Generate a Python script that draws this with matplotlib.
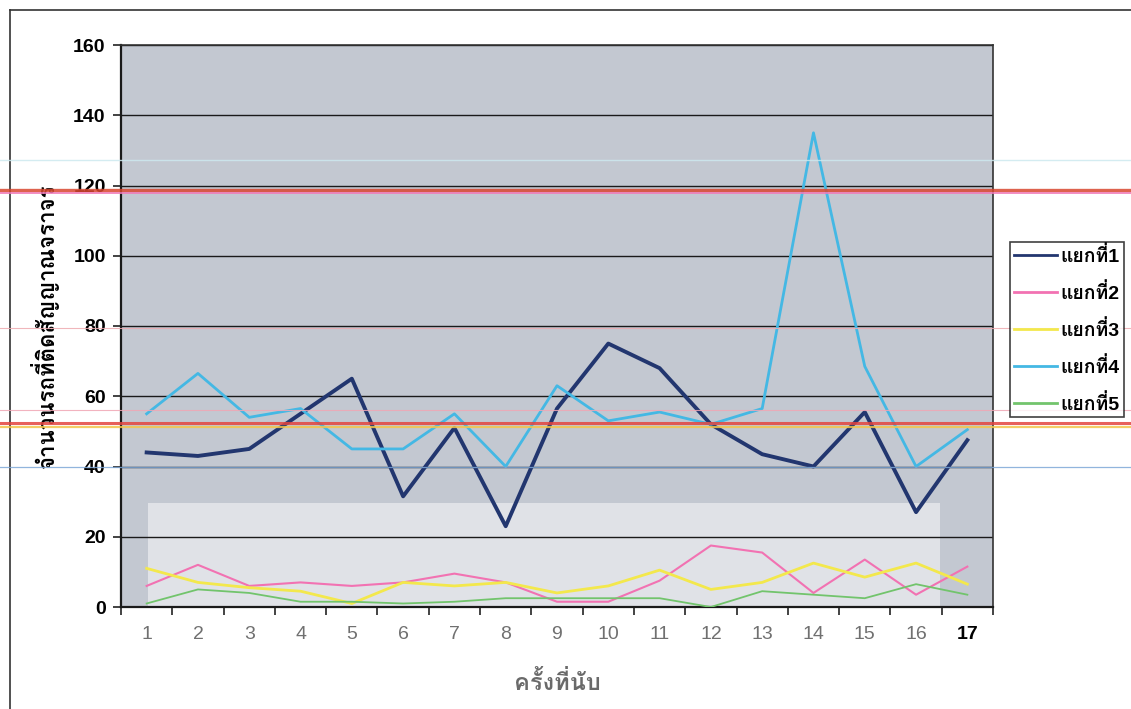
import matplotlib
matplotlib.use('Agg')
import matplotlib.pyplot as plt
from matplotlib.lines import Line2D
from matplotlib.patches import Rectangle

# Latin digits in Liberation Sans, Thai glyphs from Loma
plt.rcParams['font.family'] = ['Liberation Sans', 'Loma', 'DejaVu Sans']

rounds = list(range(1, 18))
junction1 = [44, 43, 45, 55, 65, 31.5, 51, 23, 56.5, 75, 68, 52, 43.5, 40, 55.5, 27, 47.5]
junction2 = [6, 12, 6, 7, 6, 7, 9.5, 7, 1.5, 1.5, 7.5, 17.5, 15.5, 4, 13.5, 3.5, 11.5]
junction3 = [11, 7, 5.5, 4.5, 1, 7, 6, 7, 4, 6, 10.5, 5, 7, 12.5, 8.5, 12.5, 6.5]
junction4 = [55, 66.5, 54, 56.5, 45, 45, 55, 40, 63, 53, 55.5, 52, 56.5, 135, 68.5, 40, 50.5]
junction5 = [1, 5, 4, 1.5, 1.5, 1, 1.5, 2.5, 2.5, 2.5, 2.5, 0, 4.5, 3.5, 2.5, 6.5, 3.5]
labels = ['แยกที่1', 'แยกที่2', 'แยกที่3', 'แยกที่4', 'แยกที่5']

W, H = 1131, 709
fig = plt.figure(figsize=(W / 100, H / 100), dpi=100)
ax = fig.add_axes([121 / W, 1 - 607 / H, (993 - 121) / W, (607 - 45) / H])
ax.set_facecolor('#c3c8d1')

# lighter band along the bottom of the plot area
ax.add_patch(Rectangle((0.031, 0), 0.908, 0.185, transform=ax.transAxes,
                       facecolor='#e0e2e7', edgecolor='none', zorder=0.3))

ax.plot(rounds, junction1, color='#22366f', lw=2.8, label=labels[0], zorder=3)
ax.plot(rounds, junction2, color='#f272b2', lw=1.5, label=labels[1], zorder=3)
ax.plot(rounds, junction3, color='#f3e84c', lw=2.0, label=labels[2], zorder=3)
ax.plot(rounds, junction4, color='#44b8e4', lw=2.0, label=labels[3], zorder=3)
ax.plot(rounds, junction5, color='#72c46c', lw=1.3, label=labels[4], zorder=3)

ax.set_xlim(0.5, 17.5)
ax.set_ylim(0, 160)
ax.set_yticks(range(0, 161, 20))
ax.yaxis.grid(True, color='#1a1a1a', lw=1.0, zorder=0.5)
ax.set_axisbelow(True)

ax.set_xticks(rounds)
ax.set_xticklabels([str(r) for r in rounds])
ax.set_xticks([r + 0.5 for r in range(0, 18)], minor=True)
ax.tick_params(axis='x', which='major', length=0, pad=14, labelsize=14, labelcolor='#707070')
ax.tick_params(axis='x', which='minor', length=6, width=1.2, color='#222222')
ax.tick_params(axis='y', length=6, width=1.2, color='#222222', labelsize=14, pad=5)
for t in ax.get_yticklabels():
    t.set_fontweight('bold')
last = ax.get_xticklabels()[-1]
last.set_color('black')
last.set_fontweight('bold')

for s in ['left', 'bottom']:
    ax.spines[s].set_color('#1a1a1a')
    ax.spines[s].set_linewidth(1.6)
for s in ['top', 'right']:
    ax.spines[s].set_color('#333333')
    ax.spines[s].set_linewidth(1.2)

ax.set_xlabel('ครั้งที่นับ', fontsize=17, color='#6a6a6a', fontweight='bold', labelpad=20)
ax.set_ylabel('จำนวนรถที่ติดสัญญาณจราจร', fontsize=16, fontweight='bold', labelpad=10)

leg = fig.legend(loc='upper left', bbox_to_anchor=(1010 / W, 1 - 242 / H),
                 frameon=True, fancybox=False, edgecolor='#111111',
                 handlelength=2.2, handletextpad=0.2, labelspacing=0.88,
                 borderpad=0.2, borderaxespad=0.0,
                 prop={'size': 14, 'weight': 'bold'})
leg.get_frame().set_linewidth(1.2)
for h in leg.legend_handles:
    h.set_linewidth(2.0)

# page frame
fig.add_artist(Line2D([10 / W, 10 / W], [0, 1 - 10 / H], color='#333333', lw=1.2,
                      transform=fig.transFigure))
fig.add_artist(Line2D([10 / W, 1], [1 - 10 / H, 1 - 10 / H], color='#333333', lw=1.2,
                      transform=fig.transFigure))

# colored rule lines running across the sheet
rules = [(160, '#cde9ef', 1.0), (190, '#d9472f', 2.4), (193, '#f07ab8', 1.4),
         (328, '#eeaab0', 0.8), (410, '#f0a6b4', 0.8), (423, '#e3443e', 2.2),
         (427, '#f3c54a', 1.6), (467, '#7ea8d8', 0.9)]
for y, c, w in rules:
    fig.add_artist(Line2D([0, 1], [1 - y / H, 1 - y / H], color=c, lw=w, alpha=0.85,
                          transform=fig.transFigure, zorder=5))

fig.savefig('out.png', dpi=100)
